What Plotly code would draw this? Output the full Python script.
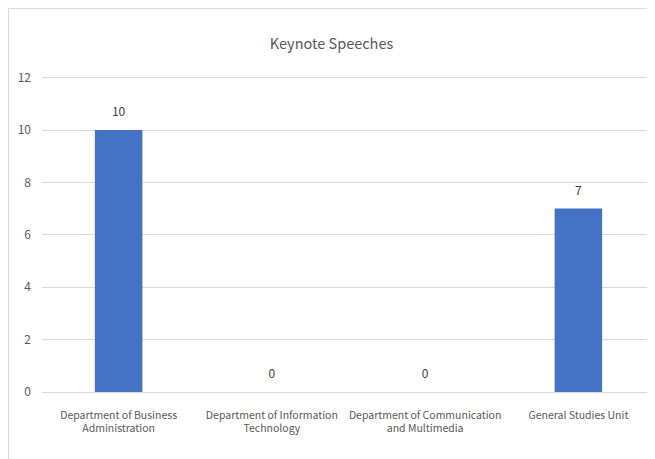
import plotly.graph_objects as go

categories = [
    "Department of Business<br>Administration",
    "Department of Information<br>Technology",
    "Department of Communication<br>and Multimedia",
    "General Studies Unit",
]
speeches = [10, 0, 0, 7]
y_ticks = [0, 2, 4, 6, 8, 10, 12]

FONT = "Noto Sans CJK SC, Lato, sans-serif"
TEXT_COLOR = "#595959"

fig = go.Figure()
fig.add_bar(
    x=categories,
    y=speeches,
    width=0.31,
    marker=dict(color="#4472C4", line=dict(width=0)),
    hoverinfo="x+y",
)
# value labels: invisible markers push the text a bit higher above the bars
fig.add_scatter(
    x=categories,
    y=speeches,
    mode="markers+text",
    text=speeches,
    textposition="top center",
    marker=dict(size=16, color="rgba(0,0,0,0)"),
    textfont=dict(size=12, color="#404040", family=FONT),
    cliponaxis=False,
    hoverinfo="skip",
)

# page body adds an 8px offset, so the figure is 8px smaller on each axis
fig.update_layout(
    width=647,
    height=451,
    plot_bgcolor="white",
    paper_bgcolor="white",
    font=dict(family=FONT, color=TEXT_COLOR, size=12),
    title=dict(
        text="Keynote Speeches",
        x=0.5,
        xanchor="center",
        y=0.92,
        yanchor="middle",
        font=dict(size=14.5, color=TEXT_COLOR, family=FONT),
    ),
    margin=dict(l=34, r=0, t=67, b=67),
    showlegend=False,
    shapes=[
        dict(type="line", xref="paper", yref="paper", x0=-0.0545, x1=1.0,
             y0=1.21, y1=1.21, line=dict(color="#d9d9d9", width=1)),
        dict(type="line", xref="paper", yref="paper", x0=-0.0545, x1=-0.0545,
             y0=1.21, y1=-0.22, line=dict(color="#d9d9d9", width=1)),
    ],
)

fig.update_yaxes(
    range=[0, 12.1],
    tickvals=y_ticks,
    showgrid=True,
    gridcolor="#d9d9d9",
    gridwidth=1,
    zeroline=False,
    showline=False,
    ticks="",
    ticklabelstandoff=10,
    tickfont=dict(size=12, color=TEXT_COLOR),
)
fig.update_xaxes(
    showline=True,
    linecolor="#d9d9d9",
    linewidth=1,
    showgrid=False,
    ticks="",
    tickangle=0,
    ticklabelstandoff=13,
    tickfont=dict(size=10.5, color=TEXT_COLOR),
)

fig.write_html("out.html")
